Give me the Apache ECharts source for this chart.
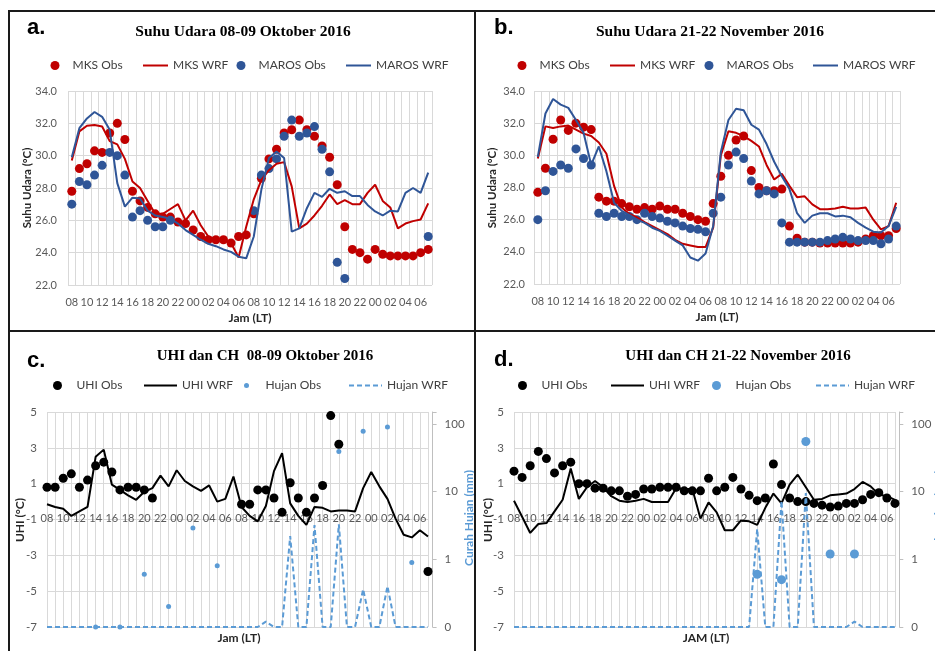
<!DOCTYPE html>
<html>
<head>
<meta charset="utf-8">
<script src="https://cdn.jsdelivr.net/npm/echarts@6/dist/echarts.min.js"></script>
<style>
	html, body { margin: 0; padding: 0; background: #fff; }
	#main { width: 935px; height: 651px; }
</style>
</head>
<body>
<div id="main"></div>
<script>
// jam (LT), 08 hari pertama s/d 07 hari ketiga
var jam = ['08', '09', '10', '11', '12', '13', '14', '15', '16', '17', '18', '19', '20', '21', '22', '23',
	'00', '01', '02', '03', '04', '05', '06', '07', '08', '09', '10', '11', '12', '13', '14', '15',
	'16', '17', '18', '19', '20', '21', '22', '23', '00', '01', '02', '03', '04', '05', '06', '07'];

// a. Suhu Udara 08-09 Oktober 2016
var mksObsA = [27.8, 29.2, 29.5, 30.3, 30.2, 31.4, 32.0, 31.0, 27.8, 27.2, 26.8, 26.4, 26.2, 26.2, 25.9, 25.8,
	25.4, 25.0, 24.8, 24.8, 24.8, 24.6, 25.0, 25.1, 26.4, 28.6, 29.8, 30.4, 31.4, 31.6, 32.2, 31.6,
	31.2, 30.6, 29.9, 28.2, 25.6, 24.2, 24.0, 23.6, 24.2, 23.9, 23.8, 23.8, 23.8, 23.8, 24.0, 24.2];
var mksWrfA = [29.7, 31.5, 31.85, 31.9, 31.8, 30.9, 30.7, 29.8, 28.4, 28.0, 27.2, 26.4, 26.4, 26.7, 27.0, 26.0,
	26.6, 25.7, 25.0, 24.8, 24.8, 24.6, 23.7, 25.6, 27.3, 28.5, 29.1, 29.5, 29.6, 28.1, 25.5, 25.8,
	26.3, 26.9, 27.6, 27.0, 27.25, 27.0, 27.0, 27.7, 28.2, 27.2, 26.8, 25.5, 25.8, 25.95, 26.05, 27.05];
var marosObsA = [27.0, 28.4, 28.2, 28.8, 29.4, 30.2, 30.0, 28.8, 26.2, 26.6, 26.0, 25.6, 25.6, 26.0, null, null,
	null, null, null, null, null, null, null, null, 26.6, 28.8, 29.2, 29.8, 31.2, 32.2, 31.2, 31.4,
	31.8, 30.4, 29.0, 23.4, 22.4, null, null, null, null, null, null, null, null, null, null, 25.0];
var marosWrfA = [29.9, 31.7, 32.3, 32.7, 32.4, 31.6, 28.3, 26.85, 27.4, 27.35, 26.6, 26.3, 26.2, 26.1, 25.8, 25.4,
	25.1, 24.8, 24.55, 24.4, 24.2, 24.05, 23.75, 23.65, 25.0, 27.9, 29.85, 30.25, 29.85, 25.3, 25.5, 26.75,
	27.7, 27.45, 27.95, 27.7, 27.8, 27.5, 27.5, 26.95, 26.55, 26.3, 26.6, 26.55, 27.7, 28.0, 27.7, 28.95];

// b. Suhu Udara 21-22 November 2016
var mksObsB = [27.7, 29.2, 31.0, 32.2, 31.55, 32.0, 31.75, 31.6, 27.4, 27.15, 27.15, 27.0, 26.8, 26.65, 26.75, 26.65,
	26.85, 26.65, 26.65, 26.4, 26.2, 26.0, 25.9, 27.0, 28.7, 30.0, 30.95, 31.2, 29.05, 28.0, 27.8, 27.8,
	27.9, 25.6, 24.85, 24.6, 24.6, 24.55, 24.55, 24.55, 24.55, 24.55, 24.6, 24.8, 25.0, 25.0, 25.0, 25.45];
var mksWrfB = [29.8, 31.8, 31.7, 31.8, 31.85, 31.6, 31.35, 31.2, 30.8, 30.1, 28.1, 26.75, 26.35, 26.15, 25.85, 25.6,
	25.35, 25.1, 24.75, 24.5, 24.4, 24.3, 24.3, 25.5, 30.0, 31.5, 31.4, 31.2, 30.9, 30.55, 29.4, 28.5,
	28.85, 28.1, 27.4, 27.45, 26.95, 26.65, 26.65, 26.7, 26.8, 26.7, 26.7, 26.75, 26.0, 25.4, 25.6, 27.05];
var marosObsB = [26.0, 27.8, 29.0, 29.4, 29.2, 30.4, 29.8, 29.4, 26.4, 26.2, 26.4, 26.2, 26.2, 26.0, 26.4, 26.2,
	26.1, 25.9, 25.8, 25.6, 25.45, 25.4, 25.25, 26.4, 27.4, 29.4, 30.2, 29.8, 28.4, 27.6, 27.8, 27.6,
	25.8, 24.6, 24.6, 24.6, 24.6, 24.6, 24.7, 24.8, 24.9, 24.8, 24.7, 24.7, 24.7, 24.5, 24.8, 25.6];
var marosWrfB = [29.9, 32.6, 33.5, 33.15, 32.95, 32.2, 31.4, 29.4, 30.55, 29.0, 27.05, 26.55, 26.3, 26.0, 25.8, 25.5,
	25.3, 25.0, 24.7, 24.4, 23.65, 23.45, 23.9, 25.6, 30.2, 32.2, 32.9, 32.8, 31.9, 31.6, 30.7, 29.6,
	28.7, 27.9, 26.4, 25.8, 26.25, 26.4, 26.4, 26.2, 26.25, 26.15, 25.8, 25.5, 25.25, 25.2, 25.6, 26.8];

// c. UHI dan CH 08-09 Oktober 2016
var uhiObsC = [0.8, 0.8, 1.3, 1.55, 0.8, 1.2, 2.0, 2.2, 1.65, 0.65, 0.8, 0.8, 0.65, 0.2, null, null,
	null, null, null, null, null, null, null, null, -0.15, -0.15, 0.65, 0.65, 0.2, -0.6, 1.05, 0.2,
	-0.6, 0.2, 0.9, 4.8, 3.2, null, null, null, null, null, null, null, null, null, null, -3.9];
var uhiWrfC = [-0.15, -0.3, -0.4, -0.8, -0.55, -0.3, 2.5, 2.9, 0.95, 0.65, 0.35, 0.1, 0.55, 0.75, 1.45, 0.85,
	1.75, 1.15, 0.85, 0.6, 0.9, 0.0, 0.15, 1.4, -0.3, -0.8, -1.1, -0.25, 1.7, 2.7, -0.1, -0.8,
	-1.3, -0.3, -0.35, -0.55, -0.5, -0.5, -0.55, 0.75, 1.65, 0.85, 0.15, -0.95, -1.85, -2.0, -1.6, -1.95];
var hujanObsC = [null, null, null, null, null, null, 0.1, null, null, 0.1, null, null, 0.6, null, null, 0.2,
	null, null, 2.9, null, null, 0.8, null, null, null, null, null, null, null, null, null, null,
	null, null, null, null, 39, null, null, 78, null, null, 90, null, null, 0.9, null, null];
var hujanWrfC = [0.1, 0.1, 0.1, 0.1, 0.1, 0.1, 0.1, 0.1, 0.1, 0.1, 0.1, 0.1, 0.1, 0.1, 0.1, 0.1,
	0.1, 0.1, 0.1, 0.1, 0.1, 0.1, 0.1, 0.1, 0.1, 0.1, 0.1, 0.12, 0.1, 0.1, 2.2, 0.1,
	0.1, 3.2, 0.1, 0.1, 3.3, 0.1, 0.1, 0.36, 0.1, 0.1, 0.4, 0.1, 0.1, 0.1, 0.1, 0.1];

// d. UHI dan CH 21-22 November 2016
var uhiObsD = [1.7, 1.35, 2.0, 2.8, 2.4, 1.6, 2.0, 2.2, 1.0, 1.0, 0.75, 0.75, 0.6, 0.6, 0.3, 0.4,
	0.7, 0.7, 0.8, 0.8, 0.8, 0.6, 0.6, 0.6, 1.3, 0.6, 0.8, 1.35, 0.7, 0.35, 0.05, 0.2,
	2.1, 0.95, 0.2, 0.0, 0.0, -0.1, -0.2, -0.3, -0.25, -0.1, -0.1, 0.1, 0.4, 0.5, 0.2, -0.1];
var uhiWrfD = [0.05, -0.85, -1.75, -1.25, -1.2, -0.55, 0.1, 1.85, 0.15, 0.8, 1.15, 0.8, 0.3, 0.05, -0.02, 0.05,
	0.15, -0.02, -0.02, -0.02, 0.75, 0.7, 0.7, -0.95, -0.05, -0.6, -1.6, -1.6, -1.05, -1.1, -1.3, -0.35,
	0.45, -0.1, 0.95, 1.5, 0.8, 0.1, 0.15, 0.35, 0.4, 0.45, 0.7, 1.1, 0.85, 0.4, 0.3, 0.1];
var hujanObsD = [null, null, null, null, null, null, null, null, null, null, null, null, null, null, null, null,
	null, null, null, null, null, null, null, null, null, null, null, null, null, null, 0.6, null,
	null, 0.5, null, null, 55, null, null, 1.2, null, null, 1.2, null, null, null, null, null];
var hujanWrfD = [0.1, 0.1, 0.1, 0.1, 0.1, 0.1, 0.1, 0.1, 0.1, 0.1, 0.1, 0.1, 0.1, 0.1, 0.1, 0.1,
	0.1, 0.1, 0.1, 0.1, 0.1, 0.1, 0.1, 0.1, 0.1, 0.1, 0.1, 0.1, 0.1, 0.1, 2.8, 0.1,
	0.1, 7.3, 0.1, 0.1, 9.5, 0.1, 0.1, 0.1, 0.1, 0.1, 0.12, 0.1, 0.1, 0.1, 0.1, 0.1];

var sans = 'Lato, "Open Sans", sans-serif';
var serif = '"Liberation Serif", "DejaVu Serif", serif';
var gridLine = '#d9d9d9';
var tickColor = '#595959';
var merah = '#c00000', biru = '#2f5597', hujan = '#5b9bd5';

// titik scatter hanya yang ada nilainya
function pts(arr) {
	var out = [];
	arr.forEach(function(v, i) {
		if(v != null) out.push([i, v]);
	});
	return out;
}

// gap=true untuk panel suhu; panel UHI labelnya naik ke garis nol (UHI = 0)
function xJam(gi, gap) {
	return {
		type: 'category',
		gridIndex: gi,
		data: jam,
		boundaryGap: gap,
		axisLine: { show: false, onZero: false },
		axisTick: { show: false },
		axisLabel: { interval: 1, margin: gap ? 12 : -114, color: tickColor, fontSize: 11, fontFamily: sans },
		splitLine: { show: true, interval: 0, lineStyle: { color: gridLine } }
	};
}

function ySuhu(gi, margin) {
	return {
		type: 'value',
		gridIndex: gi,
		min: 22,
		max: 34,
		interval: 2,
		axisLine: { show: false },
		axisTick: { show: false },
		axisLabel: {
			margin: margin, color: tickColor, fontSize: 11, fontFamily: sans,
			formatter: function(v) { return v.toFixed(1); }
		},
		splitLine: { lineStyle: { color: gridLine } }
	};
}

function yUhi(gi) {
	return {
		type: 'value',
		gridIndex: gi,
		min: -7,
		max: 5,
		interval: 2,
		axisLine: { show: false },
		axisTick: { show: false },
		axisLabel: { margin: 10, color: tickColor, fontSize: 11.5, fontFamily: sans },
		splitLine: { lineStyle: { color: gridLine } }
	};
}

function yHujan(gi, off) {
	return {
		type: 'log',
		logBase: 10,
		gridIndex: gi,
		position: 'right',
		offset: off,
		min: 0.1,
		max: 150,
		axisLine: { show: true, lineStyle: { color: '#bfbfbf' } },
		axisTick: { show: true, length: 4, lineStyle: { color: '#bfbfbf' } },
		axisLabel: {
			margin: 12, color: tickColor, fontSize: 11.5, fontFamily: sans,
			formatter: function(v) {
				var lg = Math.log(v) / Math.LN10;
				if(Math.abs(lg - Math.round(lg)) > 0.001) return '';
				return v < 1 ? '0' : String(Math.round(v));
			}
		},
		splitLine: { show: false }
	};
}

function titik(name, xi, yi, data, size, color) {
	return { name: name, type: 'scatter', xAxisIndex: xi, yAxisIndex: yi, data: pts(data),
		symbolSize: size, itemStyle: { color: color, opacity: 1 } };
}

function garis(name, xi, yi, data, color, dash) {
	return { name: name, type: 'line', xAxisIndex: xi, yAxisIndex: yi, data: data, symbol: 'none',
		itemStyle: { color: color }, lineStyle: { color: color, width: 2, type: dash || 'solid' } };
}

// satu legend per item supaya posisinya bisa diatur
function leg(name, left, rowY, w, h, isLine) {
	var item = { name: name };
	if(isLine) item.itemStyle = { color: 'rgba(0,0,0,0)', borderWidth: 0 };
	return {
		left: left, top: rowY - 5.5, padding: 0, itemWidth: w, itemHeight: h,
		selectedMode: false, data: [item],
		textStyle: { color: '#404040', fontSize: 12, fontFamily: sans }
	};
}

function teks(str, x, y, font, color, rot, align) {
	return {
		type: 'text', x: x, y: y, rotation: rot || 0, z: 50,
		style: { text: str, font: font, fill: color || '#000', textAlign: align || 'center', textVerticalAlign: 'middle' }
	};
}

var chart = echarts.init(document.getElementById('main'));

var option = {
	animation: false,
	backgroundColor: '#fff',
	grid: [
		{ left: 68, right: 503, top: 91, bottom: 366 },
		{ left: 534, right: 35, top: 91, bottom: 367 },
		{ left: 47, right: 507, top: 412, bottom: 24 },
		{ left: 514, right: 40, top: 412, bottom: 24 }
	],
	xAxis: [xJam(0, true), xJam(1, true), xJam(2, false), xJam(3, false)],
	yAxis: [ySuhu(0, 11), ySuhu(1, 9), yUhi(2), yHujan(2, 4.6), yUhi(3), yHujan(3, 4.3)],
	legend: [
		leg('MKS Obs', 50.5, 65, 25, 9), leg('MKS WRF', 142, 65, 25, 9, true),
		leg('MAROS Obs', 236.5, 65, 25, 9), leg('MAROS WRF', 345, 65, 25, 9, true),
		leg('MKS Obs', 517.5, 65, 25, 9), leg('MKS WRF', 609, 65, 25, 9, true),
		leg('MAROS Obs', 704.5, 65, 25, 9), leg('MAROS WRF', 812, 65, 25, 9, true),
		leg('UHI Obs', 53, 385, 28, 9), leg('UHI WRF', 143, 385, 33, 9, true),
		leg('Hujan Obs', 244, 385, 28, 5), leg('Hujan WRF', 348, 385, 33, 9, true),
		leg('UHI Obs', 518, 385, 28, 9), leg('UHI WRF', 610, 385, 33, 9, true),
		leg('Hujan Obs', 712, 385, 28, 9), leg('Hujan WRF', 815, 385, 33, 9, true)
	],
	series: [
		titik('MKS Obs', 0, 0, mksObsA, 9, merah),
		garis('MKS WRF', 0, 0, mksWrfA, merah),
		titik('MAROS Obs', 0, 0, marosObsA, 9, biru),
		garis('MAROS WRF', 0, 0, marosWrfA, biru),

		titik('MKS Obs', 1, 1, mksObsB, 9, merah),
		garis('MKS WRF', 1, 1, mksWrfB, merah),
		titik('MAROS Obs', 1, 1, marosObsB, 9, biru),
		garis('MAROS WRF', 1, 1, marosWrfB, biru),

		titik('UHI Obs', 2, 2, uhiObsC, 9, '#000'),
		garis('UHI WRF', 2, 2, uhiWrfC, '#000'),
		titik('Hujan Obs', 2, 3, hujanObsC, 5, hujan),
		garis('Hujan WRF', 2, 3, hujanWrfC, hujan, [5, 3]),

		titik('UHI Obs', 3, 4, uhiObsD, 9, '#000'),
		garis('UHI WRF', 3, 4, uhiWrfD, '#000'),
		titik('Hujan Obs', 3, 5, hujanObsD, 9, hujan),
		garis('Hujan WRF', 3, 5, hujanWrfD, hujan, [5, 3])
	],
	graphic: [
		teks('a.', 27, 27.5, 'bold 22px "Liberation Sans", Arial, sans-serif', '#000', 0, 'left'),
		teks('b.', 494, 27.5, 'bold 22px "Liberation Sans", Arial, sans-serif', '#000', 0, 'left'),
		teks('c.', 27, 360.5, 'bold 22px "Liberation Sans", Arial, sans-serif', '#000', 0, 'left'),
		teks('d.', 494, 359.5, 'bold 22px "Liberation Sans", Arial, sans-serif', '#000', 0, 'left'),

		teks('Suhu Udara 08-09 Oktober 2016', 243, 32, 'bold 15.5px ' + serif),
		teks('Suhu Udara 21-22 November 2016', 710, 32, 'bold 15.5px ' + serif),
		teks('UHI dan CH  08-09 Oktober 2016', 265, 356.5, 'bold 15px ' + serif),
		teks('UHI dan CH 21-22 November 2016', 738, 356.5, 'bold 15px ' + serif),

		teks('Jam (LT)', 250, 318, 'bold 12px ' + sans, '#262626'),
		teks('Jam (LT)', 717, 317, 'bold 12px ' + sans, '#262626'),
		teks('Jam (LT)', 239, 638, 'bold 12px ' + sans, '#262626'),
		teks('JAM (LT)', 706, 638, 'bold 12px ' + sans, '#262626'),

		teks('Suhu Udara (°C)', 27, 188, 'bold 11.5px ' + sans, '#262626', Math.PI / 2),
		teks('Suhu Udara (°C)', 492, 188, 'bold 11.5px ' + sans, '#262626', Math.PI / 2),
		teks('UHI (°C)', 20, 520, 'bold 12px ' + sans, '#262626', Math.PI / 2),
		teks('UHI (°C)', 488, 520, 'bold 12px ' + sans, '#262626', Math.PI / 2),
		teks('Curah Hujan (mm)', 469, 518, 'bold 12px ' + sans, hujan, Math.PI / 2),
		teks('Curah Hujan (mm)', 939, 518, 'bold 12px ' + sans, hujan, Math.PI / 2),

		// bingkai panel
		{ type: 'rect', z: 100, shape: { x: 9, y: 11, width: 940, height: 650 },
			style: { fill: 'none', stroke: '#1a1a1a', lineWidth: 2 } },
		{ type: 'line', z: 100, shape: { x1: 475, y1: 11, x2: 475, y2: 651 },
			style: { stroke: '#1a1a1a', lineWidth: 2 } },
		{ type: 'line', z: 100, shape: { x1: 9, y1: 331, x2: 935, y2: 331 },
			style: { stroke: '#1a1a1a', lineWidth: 2 } }
	]
};

chart.setOption(option);
</script>
</body>
</html>
